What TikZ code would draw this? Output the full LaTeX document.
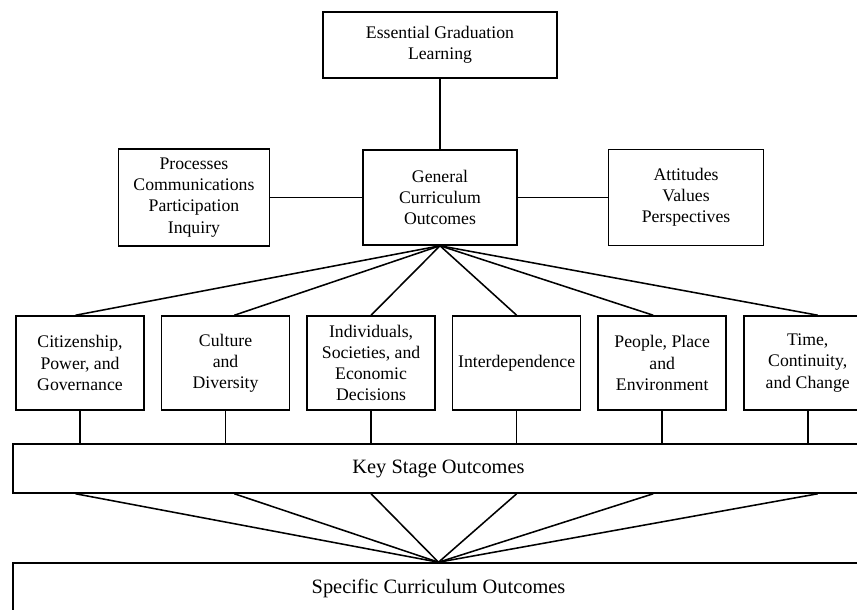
\documentclass[tikz,border=0pt]{standalone}
\usepackage{fontspec}
\setmainfont{Liberation Serif}
\usetikzlibrary{positioning, calc}
\tikzset{
  % Box styles
  outcomebox/.style={rectangle, draw=black, line width=1.1pt, align=center, inner sep=2pt, font=\fontsize{12.6}{15}\selectfont},
  strandbox/.style={outcomebox, minimum width=3.2cm, minimum height=2.35cm},
  widebox/.style={outcomebox, minimum width=21.275cm, font=\fontsize{14.5}{17}\selectfont},
  % Line styles
  link/.style={line width=1.1pt, black}
}
\begin{document}
\begin{tikzpicture}
  \useasboundingbox (0,0) rectangle (21.425,-15.25);

  % Top levels
  \node[outcomebox, minimum width=5.85cm, minimum height=1.65cm] (egl) at (11.0,-1.125) {Essential Graduation\\Learning};
  \node[outcomebox, minimum width=3.85cm, minimum height=2.375cm] (gco) at (11.0,-4.9375) {General\\Curriculum\\Outcomes};
  \node[outcomebox, minimum width=3.775cm, minimum height=2.425cm, left=2.3cm of gco] (proc) {Processes\\Communications\\Participation\\Inquiry};
  \node[outcomebox, minimum width=3.875cm, minimum height=2.4cm, right=2.25cm of gco] (att) {Attitudes\\Values\\Perspectives};

  % Strands
  \node[strandbox] (cit) at (2.0,-9.075) {Citizenship,\\Power, and\\Governance};
  \node[strandbox, right=0.4cm of cit] (cul) {Culture\\and\\Diversity};
  \node[strandbox, right=0.4cm of cul] (ind) {Individuals,\\Societies, and\\Economic\\Decisions};
  \node[strandbox, right=0.4cm of ind] (inter) {Interdependence};
  \node[strandbox, right=0.4cm of inter] (ppe) {People, Place\\and\\Environment};
  \node[strandbox, right=0.4cm of ppe] (tcc) {Time,\\Continuity,\\and Change};

  % Outcome bars
  \node[widebox, minimum height=1.225cm] (kso) at (10.9625,-11.7125) {Key Stage Outcomes};
  \node[widebox, minimum height=1.25cm] (sco) at (10.9625,-14.7) {Specific Curriculum Outcomes};

  % Links
  \draw[link] (egl) -- (gco);
  \draw[link] (proc) -- (gco);
  \draw[link] (gco) -- (att);
  \foreach \s/\dx in {cit/-0.11, cul/0.22, ind/0, inter/0, ppe/-0.225, tcc/0.25} {
    \draw[link] (gco.south) -- ([xshift=\dx cm]\s.north);
    \draw[link] (\s.south) -- (\s.south |- kso.north);
    \draw[link] ([xshift=\dx cm]\s.south |- kso.south) -- (sco.north);
  }
\end{tikzpicture}
\end{document}
